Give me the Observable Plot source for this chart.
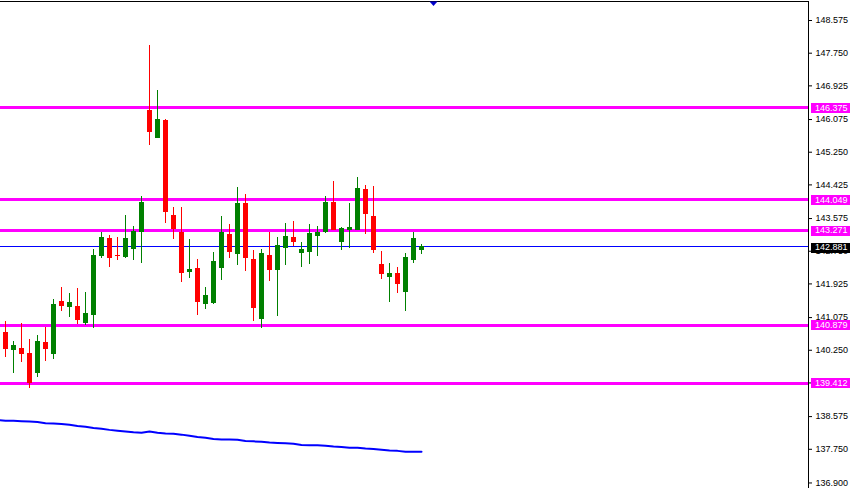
<!DOCTYPE html>
<html>
<head>
<meta charset="utf-8">
<script src="https://cdn.jsdelivr.net/npm/d3@7"></script>
<script src="https://cdn.jsdelivr.net/npm/@observablehq/plot@0.6"></script>
<style>
  html, body { margin: 0; padding: 0; background: #ffffff; }
  #chart svg { display: block; }
</style>
</head>
<body>
<div id="chart"></div>
<script>
// ---- data (candles) ----
const opens  = [140.70,140.24,140.29,140.16,139.66,140.44,140.14,141.48,141.32,141.35,140.92,141.12,142.61,143.07,142.64,142.59,142.79,143.22,146.31,145.60,146.05,143.65,143.23,142.22,142.31,141.40,141.43,142.31,143.17,142.66,143.95,142.54,141.02,142.64,142.26,142.81,143.09,142.69,142.71,143.12,143.22,143.98,142.97,143.27,143.27,144.31,143.62,142.41,142.08,142.18,141.70,142.51,142.76];
const highs  = [140.98,140.46,140.92,140.52,140.62,140.82,141.53,141.83,141.68,141.80,141.70,142.79,143.23,143.14,143.09,143.65,143.37,144.13,147.94,146.81,146.07,143.85,143.85,143.04,142.54,141.83,142.71,143.62,143.42,144.36,144.18,142.76,142.79,143.22,143.09,143.45,143.50,142.97,143.42,143.37,144.13,144.51,143.35,143.95,144.61,144.41,144.38,142.74,142.44,142.33,142.69,143.22,142.92];
const lows   = [140.06,139.66,139.93,139.28,139.56,139.96,140.01,141.22,141.07,140.89,140.87,140.79,142.56,142.33,142.51,142.56,142.51,142.44,145.42,145.60,143.45,143.04,141.96,142.06,141.13,141.27,141.40,142.01,142.56,142.38,142.23,140.97,140.79,141.98,141.10,142.38,142.87,142.33,142.41,142.61,143.19,143.27,142.76,142.81,143.27,143.17,142.69,142.03,141.45,141.68,141.22,142.44,142.66];
const closes = [140.26,140.36,140.14,139.40,140.46,140.26,141.40,141.35,141.45,141.00,141.17,142.64,143.09,142.56,142.61,143.07,143.24,143.98,145.75,146.07,143.73,143.29,142.19,142.28,141.46,141.63,142.49,143.22,142.71,143.95,142.56,141.30,142.69,142.26,142.89,143.12,142.97,142.79,143.19,143.22,143.98,143.27,143.32,143.35,144.33,143.67,142.76,142.16,142.18,141.90,142.59,143.07,142.881];

// moving average, one value per bar; the first value belongs to the bar before the first candle
const maStart = -1;
const maValues = [138.49,138.47,138.47,138.46,138.45,138.44,138.41,138.40,138.39,138.37,138.34,138.32,138.29,138.27,138.24,138.22,138.20,138.18,138.17,138.20,138.17,138.15,138.14,138.12,138.09,138.06,138.04,138.01,138.00,138.00,137.99,137.96,137.95,137.94,137.92,137.91,137.90,137.89,137.86,137.85,137.85,137.84,137.82,137.81,137.79,137.79,137.77,137.76,137.74,137.72,137.71,137.69,137.69,137.69];

// support / resistance levels and current bid
const levels = [146.375, 144.049, 143.271, 140.879, 139.412];
const bid = [142.881];

// right-axis tick values
const tickValues = [148.575,147.750,146.925,146.075,145.250,144.425,143.575,142.750,141.925,141.075,140.250,139.425,138.575,137.750,136.900];

// chart-shift marker (bar position)
const shiftMarker = [53.5];

// ---- build tables ----
const candles = opens.map((o, i) => ({i, open: o, high: highs[i], low: lows[i], close: closes[i], up: closes[i] >= o}));
const ma = maValues.map((v, k) => ({i: maStart + k, v}));

const GREEN = "#008000", RED = "#ff0000", MAGENTA = "#ff00ff", BLUE = "#0000ff";
const crisp = "crispEdges";

const boxSymbol = { draw(ctx) { ctx.rect(-19.5, -5, 39, 10); } };
const triSymbol = { draw(ctx) { ctx.moveTo(-4, 0); ctx.lineTo(4, 0); ctx.lineTo(0, 4.5); ctx.closePath(); } };

const chart = Plot.plot({
  width: 855,
  height: 488,
  marginTop: 1,
  marginRight: 47,
  marginBottom: 0,
  marginLeft: 0,
  style: { fontFamily: "'Liberation Sans', Arial, sans-serif", fontSize: "9px", color: "#000", background: "#fff" },
  x: { domain: [-0.625, 100.375], axis: null },
  y: { domain: [136.76, 149.055], axis: null },
  marks: [
    // moving average
    Plot.line(ma, { x: "i", y: "v", stroke: BLUE, strokeWidth: 2, clip: true }),
    // horizontal levels
    Plot.ruleY(levels, { y: d => d, stroke: MAGENTA, strokeWidth: 3, shapeRendering: crisp }),
    Plot.ruleY(bid, { y: d => d, stroke: BLUE, strokeWidth: 1, shapeRendering: crisp }),
    // candle wicks and bodies
    Plot.ruleX(candles, { x: "i", y1: "low", y2: "high", stroke: d => d.up ? GREEN : RED, strokeWidth: 1, shapeRendering: crisp }),
    Plot.ruleX(candles, { x: "i", y1: "open", y2: "close", stroke: d => d.up ? GREEN : RED, strokeWidth: 5, shapeRendering: crisp }),
    // frame top and right
    Plot.frame({ anchor: "top", stroke: "#000", shapeRendering: crisp }),
    Plot.frame({ anchor: "right", stroke: "#000", shapeRendering: crisp }),
    // right axis
    Plot.axisY(tickValues, { anchor: "right", tickSize: 3, tickPadding: 4, tickFormat: d => d.toFixed(3), label: null, fill: "#000" }),
    // price labels
    Plot.dot(levels, { y: d => d, frameAnchor: "right", dx: 21.5, symbol: boxSymbol, fill: MAGENTA, r: 5, shapeRendering: crisp }),
    Plot.text(levels, { y: d => d, frameAnchor: "right", dx: 6.5, textAnchor: "start", text: d => d.toFixed(3), fill: "#fff" }),
    Plot.dot(bid, { y: d => d, frameAnchor: "right", dx: 21.5, dy: 1.5, symbol: boxSymbol, fill: "#000", r: 5, shapeRendering: crisp }),
    Plot.text(bid, { y: d => d, frameAnchor: "right", dx: 6.5, dy: 1.5, textAnchor: "start", text: d => d.toFixed(3), fill: "#fff" }),
    // shift marker
    Plot.dot(shiftMarker, { x: d => d, frameAnchor: "top", symbol: triSymbol, fill: "#0000cc", r: 4 })
  ]
});
document.getElementById("chart").appendChild(chart);
</script>
</body>
</html>
